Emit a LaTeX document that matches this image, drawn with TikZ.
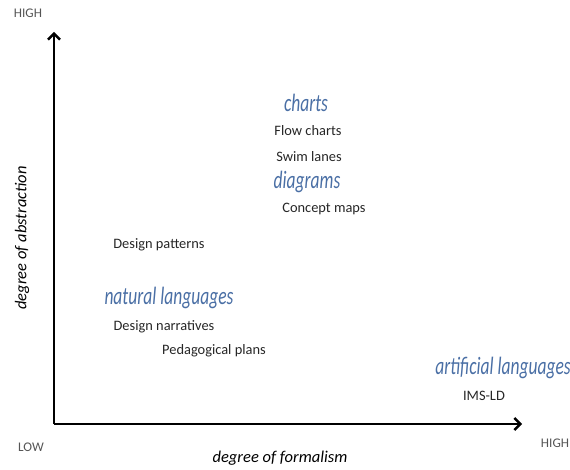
\documentclass[tikz,border=0pt]{standalone}
\usepackage{fontspec}
\setmainfont{Carlito}
\newfontfamily\kindfont[FakeStretch=0.7]{Carlito}
\usetikzlibrary{arrows.meta}
\definecolor{kindblue}{HTML}{4A6FA5}
\definecolor{lowgrey}{HTML}{555555}
\tikzset{
  axis/.style={line width=2.4pt, -{Straight Barb[length=6pt,width=12pt,line width=2.4pt]}},
  item/.style={font=\fontsize{14.4}{16}\selectfont, text=black!85, inner sep=0pt},
  kind/.style={font=\kindfont\itshape\fontsize{25}{28}\selectfont, text=kindblue, inner sep=0pt},
  axislabel/.style={font=\itshape\fontsize{16.5}{19}\selectfont, inner sep=0pt},
  endlabel/.style={font=\fontsize{13.2}{15}\selectfont, text=lowgrey, inner sep=0pt}
}
\begin{document}
\begin{tikzpicture}[x=1pt, y=-1pt]
				\useasboundingbox (0,0) rectangle (570,470);
				% axes
				\coordinate (origin) at (54,424);
				\coordinate (ytop) at (54,32);
				\coordinate (xend) at (522,424);
				\draw[axis] (origin) -- (ytop);
				\draw[axis] (origin) -- (xend);
				\node[endlabel] (yhigh) at (28,13) {HIGH};
				\node[endlabel] (low) at (31,447) {LOW};
				\node[endlabel] (xhigh) at (555,443) {HIGH};
				\node[axislabel] (formalism) at (280,458) {degree of formalism};
				\node[axislabel, rotate=90] (abstraction) at (22,238) {degree of abstraction};
				% kinds of representation
				\node[kind] (charts) at (306,103) {charts};
				\node[item] (flow) at (308,131) {Flow charts};
				\node[item] (swim) at (309,157) {Swim lanes};
				\node[kind] (diagrams) at (307,182) {diagrams};
				\node[item] (concept) at (324,209) {Concept maps};
				\node[item] (patterns) at (159,245) {Design patterns};
				\node[kind] (natural) at (169,298) {natural languages};
				\node[item] (narratives) at (164,327) {Design narratives};
				\node[item] (plans) at (214,351) {Pedagogical plans};
				\node[kind] (artificial) at (503,368) {artificial languages};
				\node[item] (imsld) at (484,396) {IMS-LD};
			\end{tikzpicture}
\end{document}
